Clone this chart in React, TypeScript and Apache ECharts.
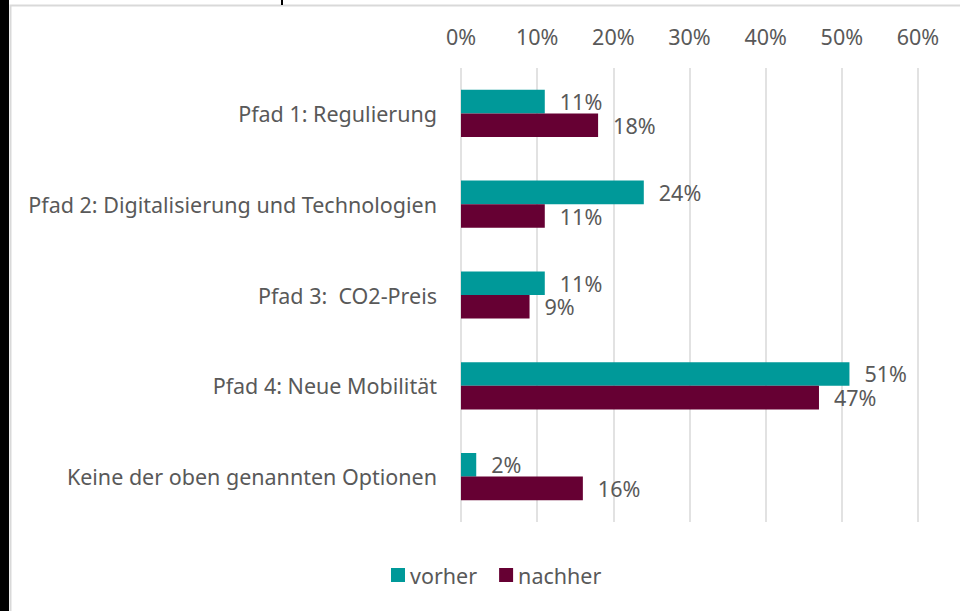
import React, { useEffect, useRef } from "react";
import * as echarts from "echarts";

const categories = [
  "Pfad 1: Regulierung",
  "Pfad 2: Digitalisierung und Technologien",
  "Pfad 3:  CO2-Preis",
  "Pfad 4: Neue Mobilität",
  "Keine der oben genannten Optionen",
];
const vorher = [11, 24, 11, 51, 2];
const nachher = [18, 11, 9, 47, 16];
const xTicks = [0, 10, 20, 30, 40, 50, 60];

const FONT = "Noto Sans";
const TEXT = "#595959";
const FS = 21.5;

export default function App() {
  const ref = useRef<HTMLDivElement>(null);
  useEffect(() => {
    if (!ref.current) return;
    const chart = echarts.init(ref.current, null, { renderer: "svg" });
    chart.setOption({
      animation: false,
      backgroundColor: "#ffffff",
      textStyle: { fontFamily: FONT },
      graphic: [
        { type: "rect", shape: { x: 0, y: 0, width: 9, height: 611 }, style: { fill: "#000" }, z: 10 },
        { type: "rect", shape: { x: 10.5, y: 5.5, width: 970, height: 620 }, style: { fill: "none", stroke: "#d9d9d9", lineWidth: 2 }, z: 10 },
        { type: "rect", shape: { x: 281, y: 0, width: 2, height: 5 }, style: { fill: "#000" }, z: 10 },
      ],
      grid: { left: 461, right: 42, top: 68, bottom: 89, containLabel: false },
      legend: {
        bottom: 20,
        left: 386,
        icon: "rect",
        itemWidth: 14,
        itemHeight: 14,
        itemGap: 22,
        itemTextGap: 4,
        textStyle: { color: TEXT, fontSize: FS, fontFamily: FONT },
        data: ["vorher", "nachher"],
      },
      xAxis: {
        type: "value",
        position: "top",
        min: 0,
        max: 60,
        interval: 10,
        axisLine: { show: false },
        axisTick: { show: false },
        axisLabel: {
          color: TEXT,
          fontSize: FS,
          fontFamily: FONT,
          margin: 21,
          formatter: (v: number) => (xTicks.includes(v) ? v + "%" : ""),
        },
        splitLine: { show: true, lineStyle: { color: "#d9d9d9", width: 1.5 } },
      },
      yAxis: {
        type: "category",
        inverse: true,
        data: categories,
        axisLine: { show: false },
        axisTick: { show: false },
        axisLabel: { color: TEXT, fontSize: FS, fontFamily: FONT, margin: 24 },
      },
      series: [
        {
          name: "vorher",
          type: "bar",
          data: vorher,
          barGap: "0%",
          barCategoryGap: "48%",
          itemStyle: { color: "#009999" },
          label: { show: true, position: "right", distance: 15, color: TEXT, fontSize: FS, fontFamily: FONT, formatter: "{c}%" },
        },
        {
          name: "nachher",
          type: "bar",
          data: nachher,
          itemStyle: { color: "#660033" },
          label: { show: true, position: "right", distance: 15, color: TEXT, fontSize: FS, fontFamily: FONT, formatter: "{c}%" },
        },
      ],
    });
    return () => chart.dispose();
  }, []);
  return <div ref={ref} style={{ position: "fixed", left: 0, top: 0, width: 960, height: 611 }} />;
}
